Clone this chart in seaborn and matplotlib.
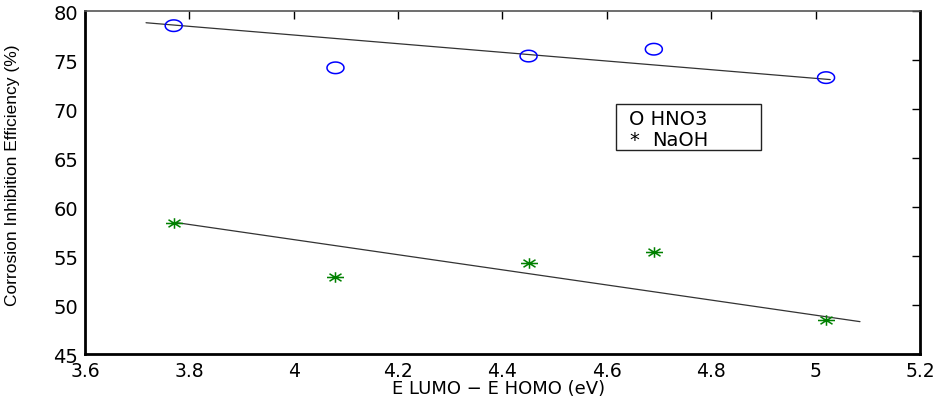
import numpy as np
import pandas as pd
import matplotlib
matplotlib.use("Agg")
import matplotlib.pyplot as plt
import matplotlib.transforms as mtransforms
from matplotlib.path import Path
from matplotlib.patches import Rectangle
import seaborn as sns

# energy gap (eV) and inhibition efficiency (%)
gap = [3.77, 4.08, 4.45, 4.69, 5.02]
eff_hno3 = [78.5, 74.2, 75.4, 76.1, 73.2]
eff_naoh = [58.4, 52.9, 54.3, 55.4, 48.5]

# straight fit lines, read as end points off the picture
fit_hno3_x = [3.717, 5.028]
fit_hno3_y = [78.8, 73.0]
fit_naoh_x = [3.776, 5.085]
fit_naoh_y = [58.4, 48.3]

xticks = [3.6, 3.8, 4.0, 4.2, 4.4, 4.6, 4.8, 5.0, 5.2]
xticklabels = ["3.6", "3.8", "4", "4.2", "4.4", "4.6", "4.8", "5", "5.2"]
yticks = [45, 50, 55, 60, 65, 70, 75, 80]

df = pd.DataFrame({"gap": gap, "HNO3": eff_hno3, "NaOH": eff_naoh})

sns.set_style("white")
plt.rcParams["font.family"] = ["DejaVu Sans"]
plt.rcParams["text.color"] = "black"
plt.rcParams["axes.labelcolor"] = "black"
plt.rcParams["xtick.color"] = "black"
plt.rcParams["ytick.color"] = "black"

# elliptical markers (the original picture is stretched sideways)
t = np.linspace(0, 2 * np.pi, 60)
ellipse = Path(np.column_stack([np.cos(t), 0.68 * np.sin(t)]))
star_verts, star_codes = [], []
for a in np.deg2rad([0, 45, 90, 135]):
    dx, dy = np.cos(a), 0.62 * np.sin(a)
    star_verts += [(-dx, -dy), (dx, dy)]
    star_codes += [Path.MOVETO, Path.LINETO]
star = Path(star_verts, star_codes)

fig = plt.figure(figsize=(9.41, 3.98), dpi=100)
ax = fig.add_axes([0.0903, 0.1106, 0.8874, 0.8618])

sns.lineplot(x=fit_hno3_x, y=fit_hno3_y, ax=ax, color="#333333", lw=0.9)
sns.lineplot(x=fit_naoh_x, y=fit_naoh_y, ax=ax, color="#333333", lw=0.9)
sns.scatterplot(data=df, x="gap", y="HNO3", ax=ax, marker=ellipse, s=150,
                facecolor="none", edgecolor="#0000ff", linewidth=1.1, zorder=3)
sns.scatterplot(data=df, x="gap", y="NaOH", ax=ax, marker=star, s=150,
                color="#008000", edgecolor="#008000", linewidth=1.1, zorder=3)

ax.set_xlim(3.6, 5.2)
ax.set_ylim(45, 80)
ax.set_xticks(xticks)
ax.set_xticklabels(xticklabels)
ax.set_yticks(yticks)
ax.tick_params(direction="in", length=6, width=1, top=True, right=True,
               labelsize=14, color="black", labelcolor="black")
ax.tick_params(axis="x", pad=6, labelsize=13.5)
ax.tick_params(axis="y", pad=5)

for side in ["left", "bottom", "right"]:
    ax.spines[side].set_linewidth(2)
    ax.spines[side].set_color("black")
ax.spines["top"].set_linewidth(1.2)
ax.spines["top"].set_color("#555555")

off = mtransforms.ScaledTranslation(0, -2 / 100, fig.dpi_scale_trans)
for lbl in ax.get_yticklabels():
    lbl.set_transform(lbl.get_transform() + off)

ax.set_xlabel("E LUMO \u2212 E HOMO (eV)", fontsize=13)
ax.xaxis.set_label_coords(0.495, -0.076)
ax.set_ylabel("Corrosion Inhibition Efficiency (%)", fontsize=12.5,
              family=["DejaVu Sans Condensed", "Liberation Sans Narrow",
                      "Liberation Sans"])
ax.yaxis.set_label_coords(-0.078, 0.52)

# old-style text legend box
ax.add_patch(Rectangle((0.636, 0.595), 0.174, 0.134, transform=ax.transAxes,
                       facecolor="white", edgecolor="#222222", lw=1, zorder=4))
ax.text(0.652, 0.668, "O HNO3", transform=ax.transAxes, fontsize=14,
        va="baseline", ha="left", zorder=5)
ax.text(0.652, 0.606, "*", transform=ax.transAxes, fontsize=14,
        va="baseline", ha="left", zorder=5)
ax.text(0.679, 0.606, "NaOH", transform=ax.transAxes, fontsize=14,
        va="baseline", ha="left", zorder=5)

fig.savefig("out.png", dpi=100)
plt.close(fig)
